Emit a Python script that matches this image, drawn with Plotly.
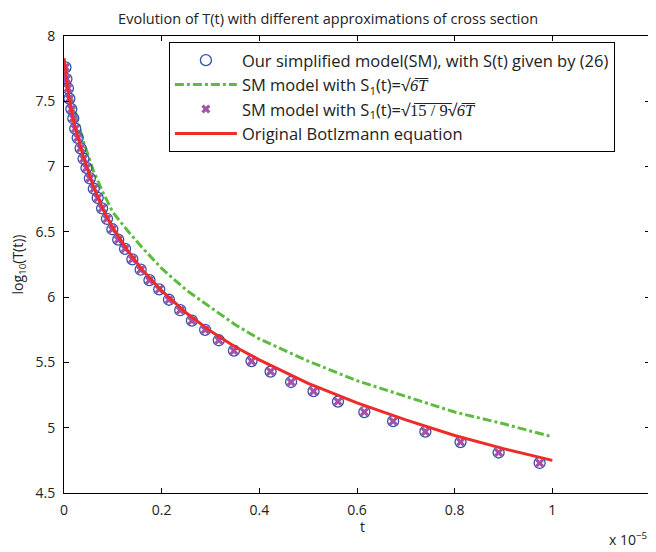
import plotly.graph_objects as go

# ── Données (t en unités de 1e-5) ─────────────────────────────────
# Points du modèle simplifié (cercles) et variante sqrt(15/9)sqrt(6T) (croix)
T_SM = [0.003, 0.005, 0.008, 0.011, 0.015, 0.019, 0.023, 0.028, 0.034, 0.040,
        0.046, 0.053, 0.061, 0.069, 0.078, 0.088, 0.099, 0.111, 0.125, 0.140,
        0.157, 0.175, 0.195, 0.215, 0.238, 0.262, 0.289, 0.317, 0.348, 0.384,
        0.423, 0.465, 0.511, 0.561, 0.615, 0.674, 0.740, 0.812, 0.890, 0.974]
LOGT_SM = [7.76, 7.67, 7.60, 7.52, 7.44, 7.37, 7.29, 7.22, 7.14, 7.06,
           6.99, 6.91, 6.83, 6.76, 6.68, 6.60, 6.52, 6.44, 6.37, 6.29,
           6.21, 6.13, 6.06, 5.98, 5.90, 5.82, 5.75, 5.67, 5.59, 5.51,
           5.43, 5.35, 5.28, 5.20, 5.12, 5.05, 4.97, 4.89, 4.81, 4.73]

# Modèle SM avec S1(t)=sqrt(6T)
T_S1 = [0, 0.01, 0.02, 0.04, 0.06, 0.08, 0.10, 0.13, 0.16, 0.20,
        0.25, 0.30, 0.35, 0.40, 0.50, 0.60, 0.70, 0.80, 0.90, 1.00]
LOGT_S1 = [7.82, 7.60, 7.46, 7.19, 6.97, 6.80, 6.65, 6.51, 6.38, 6.22,
           6.055, 5.925, 5.79, 5.68, 5.51, 5.36, 5.24, 5.12, 5.03, 4.93]

# Equation de Boltzmann originale
T_BOLTZ = [0, 0.01, 0.02, 0.04, 0.06, 0.08, 0.10, 0.13, 0.16, 0.20,
           0.25, 0.30, 0.35, 0.40, 0.50, 0.60, 0.70, 0.80, 0.90, 1.00]
LOGT_BOLTZ = [7.83, 7.53, 7.34, 7.07, 6.85, 6.67, 6.53, 6.36, 6.21, 6.05,
              5.88, 5.74, 5.62, 5.52, 5.34, 5.19, 5.06, 4.94, 4.84, 4.75]

X_TICKS = [0, 0.2, 0.4, 0.6, 0.8, 1.0, 1.2]
X_TICKTEXT = ['0', '0.2', '0.4', '0.6', '0.8', '1', '1.2']
Y_TICKS = [4.5, 5, 5.5, 6, 6.5, 7, 7.5, 8]
Y_TICKTEXT = ['4.5', '5', '5.5', '6', '6.5', '7', '7.5', '8']

FONT = '"Open Sans", Lato, sans-serif'
SQRT6T = "√<span style='font-family:\"Liberation Serif\"'><i>6̅T̅</i></span>"
SQRT15 = "√<span style='font-family:\"Liberation Serif\"'>1̅5̅ ̅/̅ ̅9̅</span>"

fig = go.Figure()
fig.add_trace(go.Scatter(
    x=T_S1, y=LOGT_S1, mode='lines', legendrank=2,
    name='SM model with S<sub>1</sub>(t)=' + SQRT6T,
    line=dict(color='#5dbb3f', width=3, dash='dashdot'),
))
fig.add_trace(go.Scatter(
    x=T_SM, y=LOGT_SM, mode='markers', legendrank=1,
    name='Our simplified model(SM), with S(t) given by (26)',
    marker=dict(symbol='circle-open', size=11, color='#3452a8', line=dict(width=1.3)),
))
fig.add_trace(go.Scatter(
    x=T_SM, y=LOGT_SM, mode='markers', legendrank=3,
    name='SM model with S<sub>1</sub>(t)=' + SQRT15 + SQRT6T,
    marker=dict(symbol='x', size=8, color='#a452a8', line=dict(width=0)),
))
fig.add_trace(go.Scatter(
    x=T_BOLTZ, y=LOGT_BOLTZ, mode='lines', legendrank=4,
    name='Original Botlzmann equation',
    line=dict(color='#ee2a2a', width=3),
))

axis_common = dict(
    showgrid=False, zeroline=False, showline=True, linecolor='black', linewidth=1,
    mirror='ticks', ticks='inside', ticklen=5, tickcolor='black', automargin=False,
    tickfont=dict(size=14, color='#222'),
)
# la page ajoute 8 px de marge autour de la figure : on compense
fig.update_layout(
    width=648, height=544,
    margin=dict(l=56, r=6, t=28, b=59),
    paper_bgcolor='white', plot_bgcolor='white',
    font=dict(family=FONT, color='#222'),
    title=dict(text='Evolution of T(t) with different approximations of cross section',
               x=0.494, xanchor='center', y=0.98, yanchor='middle', font=dict(size=14.5)),
    xaxis=dict(range=[0, 1.2], tickvals=X_TICKS, ticktext=X_TICKTEXT, ticklabelstandoff=4,
               **axis_common),
    yaxis=dict(range=[4.5, 8], tickvals=Y_TICKS, ticktext=Y_TICKTEXT, ticklabelstandoff=5,
               title=dict(text='log<sub>10</sub>(T(t))', standoff=10, font=dict(size=14)),
               **axis_common),
    legend=dict(x=0.179, y=0.987, xanchor='left', yanchor='top',
                bgcolor='white', bordercolor='black', borderwidth=1,
                font=dict(size=16.5), tracegroupgap=0, itemwidth=62),
    annotations=[
        dict(text='t', x=0.51, y=-0.074, xref='paper', yref='paper',
             xanchor='center', yanchor='middle', showarrow=False, font=dict(size=14)),
        dict(text='x 10<sup>−5</sup>', x=1, y=-0.1, xref='paper', yref='paper',
             xanchor='right', yanchor='middle', showarrow=False, font=dict(size=14)),
    ],
)

fig.write_html("out.html")
